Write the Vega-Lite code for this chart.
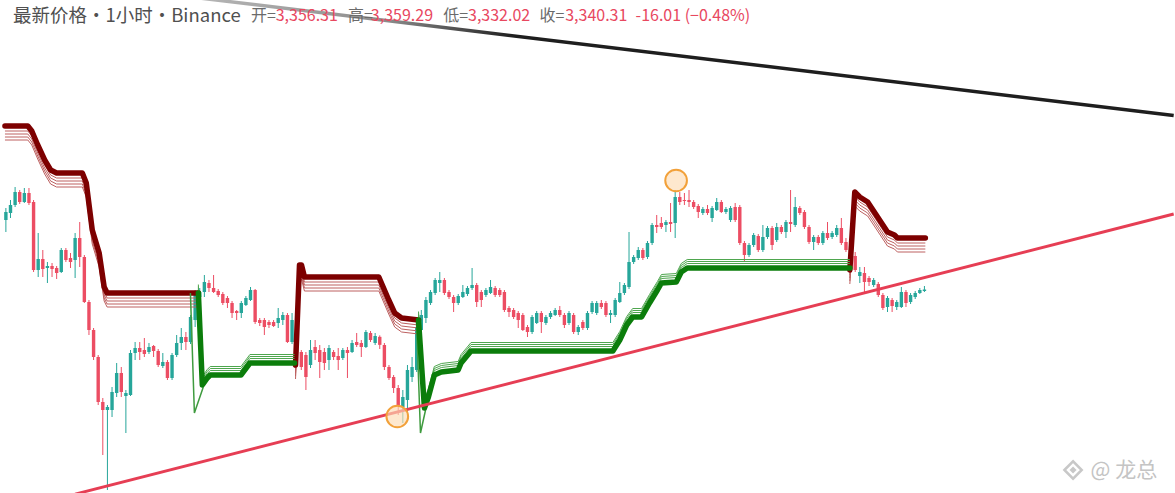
{
  "$schema": "https://vega.github.io/schema/vega-lite/v6.json",
  "width": 1175,
  "height": 493,
  "autosize": {"type": "fit", "contains": "padding"},
  "padding": 0,
  "background": "#ffffff",
  "config": {"view": {"stroke": null}},
  "datasets": {
    "candles": [
      {"t":0,"o":3590,"h":3614,"l":3566,"c":3606},
      {"t":1,"o":3604,"h":3630,"l":3594,"c":3620},
      {"t":2,"o":3620,"h":3656,"l":3616,"c":3646},
      {"t":3,"o":3646,"h":3650,"l":3622,"c":3626},
      {"t":4,"o":3626,"h":3654,"l":3624,"c":3644},
      {"t":5,"o":3644,"h":3654,"l":3620,"c":3624},
      {"t":6,"o":3626,"h":3630,"l":3486,"c":3490},
      {"t":7,"o":3490,"h":3564,"l":3476,"c":3512},
      {"t":8,"o":3512,"h":3530,"l":3476,"c":3492},
      {"t":9,"o":3494,"h":3506,"l":3464,"c":3498},
      {"t":10,"o":3498,"h":3504,"l":3476,"c":3492},
      {"t":11,"o":3494,"h":3498,"l":3472,"c":3484},
      {"t":12,"o":3486,"h":3534,"l":3484,"c":3530},
      {"t":13,"o":3530,"h":3534,"l":3506,"c":3510},
      {"t":14,"o":3514,"h":3524,"l":3494,"c":3506},
      {"t":15,"o":3510,"h":3564,"l":3474,"c":3554},
      {"t":16,"o":3554,"h":3586,"l":3496,"c":3516},
      {"t":17,"o":3516,"h":3520,"l":3424,"c":3426},
      {"t":18,"o":3426,"h":3430,"l":3360,"c":3370},
      {"t":19,"o":3370,"h":3374,"l":3310,"c":3316},
      {"t":20,"o":3316,"h":3320,"l":3220,"c":3226},
      {"t":21,"o":3226,"h":3234,"l":3120,"c":3210},
      {"t":22,"o":3210,"h":3220,"l":3050,"c":3216},
      {"t":23,"o":3210,"h":3256,"l":3196,"c":3246},
      {"t":24,"o":3244,"h":3304,"l":3236,"c":3284},
      {"t":25,"o":3284,"h":3296,"l":3236,"c":3246},
      {"t":26,"o":3238,"h":3250,"l":3164,"c":3244},
      {"t":27,"o":3240,"h":3330,"l":3238,"c":3324},
      {"t":28,"o":3324,"h":3346,"l":3310,"c":3334},
      {"t":29,"o":3334,"h":3346,"l":3310,"c":3326},
      {"t":30,"o":3330,"h":3354,"l":3316,"c":3322},
      {"t":31,"o":3326,"h":3344,"l":3322,"c":3336},
      {"t":32,"o":3338,"h":3340,"l":3316,"c":3328},
      {"t":33,"o":3328,"h":3332,"l":3296,"c":3300},
      {"t":34,"o":3298,"h":3324,"l":3294,"c":3306},
      {"t":35,"o":3306,"h":3310,"l":3270,"c":3274},
      {"t":36,"o":3274,"h":3324,"l":3270,"c":3320},
      {"t":37,"o":3320,"h":3360,"l":3316,"c":3344},
      {"t":38,"o":3344,"h":3374,"l":3330,"c":3356},
      {"t":39,"o":3356,"h":3366,"l":3330,"c":3346},
      {"t":40,"o":3346,"h":3400,"l":3342,"c":3396},
      {"t":41,"o":3390,"h":3450,"l":3376,"c":3444},
      {"t":42,"o":3436,"h":3454,"l":3432,"c":3446},
      {"t":43,"o":3446,"h":3480,"l":3436,"c":3466},
      {"t":44,"o":3464,"h":3470,"l":3446,"c":3454},
      {"t":45,"o":3454,"h":3480,"l":3444,"c":3446},
      {"t":46,"o":3448,"h":3452,"l":3436,"c":3440},
      {"t":47,"o":3442,"h":3446,"l":3420,"c":3424},
      {"t":48,"o":3434,"h":3438,"l":3414,"c":3424},
      {"t":49,"o":3424,"h":3428,"l":3394,"c":3404},
      {"t":50,"o":3408,"h":3410,"l":3390,"c":3404},
      {"t":51,"o":3404,"h":3428,"l":3394,"c":3424},
      {"t":52,"o":3420,"h":3438,"l":3418,"c":3434},
      {"t":53,"o":3430,"h":3456,"l":3428,"c":3450},
      {"t":54,"o":3450,"h":3452,"l":3382,"c":3386},
      {"t":55,"o":3390,"h":3394,"l":3378,"c":3384},
      {"t":56,"o":3390,"h":3394,"l":3360,"c":3376},
      {"t":57,"o":3386,"h":3390,"l":3374,"c":3380},
      {"t":58,"o":3386,"h":3390,"l":3376,"c":3378},
      {"t":59,"o":3384,"h":3414,"l":3374,"c":3394},
      {"t":60,"o":3390,"h":3406,"l":3380,"c":3400},
      {"t":61,"o":3400,"h":3404,"l":3344,"c":3346},
      {"t":62,"o":3346,"h":3404,"l":3342,"c":3390},
      {"t":63,"o":3386,"h":3390,"l":3318,"c":3326},
      {"t":64,"o":3326,"h":3330,"l":3290,"c":3296},
      {"t":65,"o":3320,"h":3326,"l":3250,"c":3276},
      {"t":66,"o":3300,"h":3350,"l":3294,"c":3330},
      {"t":67,"o":3336,"h":3350,"l":3310,"c":3324},
      {"t":68,"o":3330,"h":3340,"l":3274,"c":3306},
      {"t":69,"o":3326,"h":3334,"l":3290,"c":3304},
      {"t":70,"o":3310,"h":3340,"l":3290,"c":3334},
      {"t":71,"o":3326,"h":3330,"l":3310,"c":3316},
      {"t":72,"o":3318,"h":3334,"l":3290,"c":3310},
      {"t":73,"o":3314,"h":3334,"l":3310,"c":3330},
      {"t":74,"o":3330,"h":3336,"l":3274,"c":3324},
      {"t":75,"o":3326,"h":3350,"l":3324,"c":3344},
      {"t":76,"o":3346,"h":3364,"l":3336,"c":3340},
      {"t":77,"o":3344,"h":3350,"l":3316,"c":3336},
      {"t":78,"o":3336,"h":3370,"l":3334,"c":3366},
      {"t":79,"o":3364,"h":3368,"l":3346,"c":3350},
      {"t":80,"o":3344,"h":3364,"l":3340,"c":3358},
      {"t":81,"o":3356.31,"h":3359.29,"l":3332.02,"c":3340.31},
      {"t":82,"o":3340,"h":3344,"l":3290,"c":3296},
      {"t":83,"o":3296,"h":3300,"l":3270,"c":3274},
      {"t":84,"o":3276,"h":3280,"l":3244,"c":3254},
      {"t":85,"o":3254,"h":3260,"l":3200,"c":3220},
      {"t":86,"o":3216,"h":3250,"l":3184,"c":3236},
      {"t":87,"o":3230,"h":3300,"l":3194,"c":3290},
      {"t":88,"o":3276,"h":3316,"l":3266,"c":3296},
      {"t":89,"o":3290,"h":3380,"l":3286,"c":3376},
      {"t":90,"o":3370,"h":3410,"l":3360,"c":3400},
      {"t":91,"o":3394,"h":3436,"l":3384,"c":3430},
      {"t":92,"o":3424,"h":3450,"l":3420,"c":3446},
      {"t":93,"o":3444,"h":3474,"l":3440,"c":3470},
      {"t":94,"o":3464,"h":3486,"l":3446,"c":3470},
      {"t":95,"o":3470,"h":3474,"l":3440,"c":3444},
      {"t":96,"o":3446,"h":3450,"l":3432,"c":3436},
      {"t":97,"o":3436,"h":3440,"l":3406,"c":3424},
      {"t":98,"o":3424,"h":3442,"l":3420,"c":3438},
      {"t":99,"o":3436,"h":3460,"l":3434,"c":3446},
      {"t":100,"o":3442,"h":3458,"l":3438,"c":3454},
      {"t":101,"o":3454,"h":3494,"l":3450,"c":3460},
      {"t":102,"o":3460,"h":3464,"l":3416,"c":3426},
      {"t":103,"o":3446,"h":3450,"l":3416,"c":3430},
      {"t":104,"o":3440,"h":3454,"l":3436,"c":3450},
      {"t":105,"o":3444,"h":3470,"l":3442,"c":3456},
      {"t":106,"o":3454,"h":3458,"l":3436,"c":3440},
      {"t":107,"o":3450,"h":3454,"l":3436,"c":3440},
      {"t":108,"o":3446,"h":3450,"l":3406,"c":3410},
      {"t":109,"o":3414,"h":3418,"l":3396,"c":3406},
      {"t":110,"o":3410,"h":3414,"l":3392,"c":3396},
      {"t":111,"o":3404,"h":3408,"l":3374,"c":3390},
      {"t":112,"o":3400,"h":3404,"l":3368,"c":3370},
      {"t":113,"o":3376,"h":3380,"l":3356,"c":3366},
      {"t":114,"o":3366,"h":3400,"l":3362,"c":3396},
      {"t":115,"o":3384,"h":3408,"l":3382,"c":3404},
      {"t":116,"o":3404,"h":3408,"l":3364,"c":3386},
      {"t":117,"o":3384,"h":3400,"l":3380,"c":3396},
      {"t":118,"o":3396,"h":3408,"l":3392,"c":3404},
      {"t":119,"o":3400,"h":3414,"l":3398,"c":3410},
      {"t":120,"o":3410,"h":3418,"l":3396,"c":3400},
      {"t":121,"o":3400,"h":3404,"l":3374,"c":3380},
      {"t":122,"o":3384,"h":3408,"l":3380,"c":3404},
      {"t":123,"o":3400,"h":3404,"l":3362,"c":3366},
      {"t":124,"o":3366,"h":3380,"l":3360,"c":3376},
      {"t":125,"o":3386,"h":3390,"l":3370,"c":3374},
      {"t":126,"o":3374,"h":3408,"l":3370,"c":3404},
      {"t":127,"o":3406,"h":3428,"l":3402,"c":3424},
      {"t":128,"o":3404,"h":3428,"l":3400,"c":3424},
      {"t":129,"o":3424,"h":3430,"l":3412,"c":3416},
      {"t":130,"o":3424,"h":3428,"l":3396,"c":3400},
      {"t":131,"o":3400,"h":3410,"l":3384,"c":3404},
      {"t":132,"o":3400,"h":3434,"l":3396,"c":3430},
      {"t":133,"o":3426,"h":3466,"l":3424,"c":3444},
      {"t":134,"o":3444,"h":3464,"l":3440,"c":3460},
      {"t":135,"o":3456,"h":3566,"l":3452,"c":3506},
      {"t":136,"o":3506,"h":3520,"l":3502,"c":3516},
      {"t":137,"o":3514,"h":3536,"l":3510,"c":3530},
      {"t":138,"o":3530,"h":3534,"l":3510,"c":3514},
      {"t":139,"o":3516,"h":3548,"l":3512,"c":3544},
      {"t":140,"o":3544,"h":3584,"l":3540,"c":3580},
      {"t":141,"o":3580,"h":3600,"l":3564,"c":3576},
      {"t":142,"o":3584,"h":3596,"l":3572,"c":3576},
      {"t":143,"o":3580,"h":3590,"l":3566,"c":3586},
      {"t":144,"o":3586,"h":3624,"l":3566,"c":3582},
      {"t":145,"o":3584,"h":3650,"l":3554,"c":3636},
      {"t":146,"o":3636,"h":3646,"l":3620,"c":3626},
      {"t":147,"o":3630,"h":3644,"l":3620,"c":3628},
      {"t":148,"o":3630,"h":3650,"l":3616,"c":3626},
      {"t":149,"o":3626,"h":3630,"l":3612,"c":3616},
      {"t":150,"o":3618,"h":3622,"l":3594,"c":3606},
      {"t":151,"o":3604,"h":3616,"l":3600,"c":3612},
      {"t":152,"o":3612,"h":3620,"l":3600,"c":3604},
      {"t":153,"o":3594,"h":3618,"l":3586,"c":3614},
      {"t":154,"o":3610,"h":3634,"l":3608,"c":3626},
      {"t":155,"o":3626,"h":3630,"l":3604,"c":3606},
      {"t":156,"o":3606,"h":3616,"l":3602,"c":3612},
      {"t":157,"o":3590,"h":3618,"l":3586,"c":3614},
      {"t":158,"o":3616,"h":3624,"l":3586,"c":3590},
      {"t":159,"o":3616,"h":3620,"l":3540,"c":3544},
      {"t":160,"o":3544,"h":3548,"l":3506,"c":3520},
      {"t":161,"o":3520,"h":3544,"l":3516,"c":3540},
      {"t":162,"o":3540,"h":3564,"l":3536,"c":3560},
      {"t":163,"o":3558,"h":3562,"l":3526,"c":3530},
      {"t":164,"o":3530,"h":3580,"l":3526,"c":3556},
      {"t":165,"o":3556,"h":3578,"l":3552,"c":3574},
      {"t":166,"o":3574,"h":3578,"l":3530,"c":3540},
      {"t":167,"o":3550,"h":3584,"l":3546,"c":3576},
      {"t":168,"o":3576,"h":3580,"l":3562,"c":3566},
      {"t":169,"o":3566,"h":3590,"l":3554,"c":3586},
      {"t":170,"o":3586,"h":3650,"l":3566,"c":3582},
      {"t":171,"o":3580,"h":3636,"l":3576,"c":3616},
      {"t":172,"o":3614,"h":3618,"l":3600,"c":3604},
      {"t":173,"o":3606,"h":3610,"l":3572,"c":3576},
      {"t":174,"o":3576,"h":3580,"l":3542,"c":3546},
      {"t":175,"o":3546,"h":3560,"l":3530,"c":3556},
      {"t":176,"o":3556,"h":3560,"l":3540,"c":3544},
      {"t":177,"o":3544,"h":3568,"l":3540,"c":3564},
      {"t":178,"o":3564,"h":3586,"l":3550,"c":3554},
      {"t":179,"o":3556,"h":3568,"l":3552,"c":3564},
      {"t":180,"o":3560,"h":3580,"l":3556,"c":3574},
      {"t":181,"o":3574,"h":3594,"l":3540,"c":3544},
      {"t":182,"o":3546,"h":3554,"l":3526,"c":3530},
      {"t":183,"o":3530,"h":3540,"l":3514,"c":3518},
      {"t":184,"o":3518,"h":3526,"l":3486,"c":3490},
      {"t":185,"o":3478,"h":3496,"l":3464,"c":3486},
      {"t":186,"o":3484,"h":3496,"l":3446,"c":3466},
      {"t":187,"o":3474,"h":3478,"l":3458,"c":3466},
      {"t":188,"o":3460,"h":3474,"l":3456,"c":3470},
      {"t":189,"o":3462,"h":3466,"l":3436,"c":3440},
      {"t":190,"o":3440,"h":3444,"l":3410,"c":3414},
      {"t":191,"o":3416,"h":3438,"l":3406,"c":3434},
      {"t":192,"o":3430,"h":3434,"l":3406,"c":3418},
      {"t":193,"o":3416,"h":3430,"l":3410,"c":3426},
      {"t":194,"o":3416,"h":3456,"l":3414,"c":3446},
      {"t":195,"o":3446,"h":3450,"l":3416,"c":3424},
      {"t":196,"o":3426,"h":3444,"l":3422,"c":3440},
      {"t":197,"o":3436,"h":3448,"l":3432,"c":3444},
      {"t":198,"o":3444,"h":3454,"l":3442,"c":3450},
      {"t":199,"o":3448,"h":3458,"l":3446,"c":3451}
    ],
    "bear": [
      {"t":-0.2,"v":3778,"seg":"a"},
      {"t":4.75,"v":3778,"seg":"a"},
      {"t":5.61,"v":3768,"seg":"a"},
      {"t":6.9,"v":3740,"seg":"a"},
      {"t":8.4,"v":3710,"seg":"a"},
      {"t":9.69,"v":3690,"seg":"a"},
      {"t":10.98,"v":3684,"seg":"a"},
      {"t":16.56,"v":3684,"seg":"a"},
      {"t":17.42,"v":3664,"seg":"a"},
      {"t":18.71,"v":3570,"seg":"a"},
      {"t":20.21,"v":3524,"seg":"a"},
      {"t":21.29,"v":3456,"seg":"a"},
      {"t":21.93,"v":3444,"seg":"a"},
      {"t":41.7,"v":3444,"seg":"a"},
      {"t":62.75,"v":3300,"seg":"c"},
      {"t":63.61,"v":3500,"seg":"c"},
      {"t":64.04,"v":3500,"seg":"c"},
      {"t":64.68,"v":3476,"seg":"c"},
      {"t":80.8,"v":3476,"seg":"c"},
      {"t":82.94,"v":3430,"seg":"c"},
      {"t":84.23,"v":3404,"seg":"c"},
      {"t":85.73,"v":3394,"seg":"c"},
      {"t":89.39,"v":3390,"seg":"c"},
      {"t":182.84,"v":3490,"seg":"e"},
      {"t":183.91,"v":3646,"seg":"e"},
      {"t":184.98,"v":3636,"seg":"e"},
      {"t":186.7,"v":3626,"seg":"e"},
      {"t":188.85,"v":3596,"seg":"e"},
      {"t":190.99,"v":3566,"seg":"e"},
      {"t":192.5,"v":3560,"seg":"e"},
      {"t":193.15,"v":3554,"seg":"e"},
      {"t":199.2,"v":3554,"seg":"e"}
    ],
    "bull": [
      {"t":41.7,"v":3444,"seg":"b"},
      {"t":42.56,"v":3260,"seg":"b"},
      {"t":43.63,"v":3274,"seg":"b"},
      {"t":44.27,"v":3280,"seg":"b"},
      {"t":50.93,"v":3280,"seg":"b"},
      {"t":52.87,"v":3304,"seg":"b"},
      {"t":62.53,"v":3304,"seg":"b"},
      {"t":89.39,"v":3390,"seg":"d"},
      {"t":90.68,"v":3214,"seg":"d"},
      {"t":91.54,"v":3236,"seg":"d"},
      {"t":92.82,"v":3280,"seg":"d"},
      {"t":94.33,"v":3286,"seg":"d"},
      {"t":97.98,"v":3290,"seg":"d"},
      {"t":98.62,"v":3304,"seg":"d"},
      {"t":100.77,"v":3328,"seg":"d"},
      {"t":131.5,"v":3328,"seg":"d"},
      {"t":133.0,"v":3350,"seg":"d"},
      {"t":134.5,"v":3380,"seg":"d"},
      {"t":135.79,"v":3396,"seg":"d"},
      {"t":137.72,"v":3396,"seg":"d"},
      {"t":139.44,"v":3424,"seg":"d"},
      {"t":141.16,"v":3450,"seg":"d"},
      {"t":142.02,"v":3464,"seg":"d"},
      {"t":145.24,"v":3466,"seg":"d"},
      {"t":146.32,"v":3486,"seg":"d"},
      {"t":147.61,"v":3494,"seg":"d"},
      {"t":182.84,"v":3494,"seg":"d"}
    ],
    "flips": [
      {"t":39.98,"v":3444,"seg":"s1"},
      {"t":40.84,"v":3204,"seg":"s1"},
      {"t":42.77,"v":3256,"seg":"s1"},
      {"t":88.96,"v":3386,"seg":"s2"},
      {"t":89.82,"v":3164,"seg":"s2"},
      {"t":91.54,"v":3236,"seg":"s2"}
    ],
    "support": [{"t":15,"p":3041.8},{"t":253,"p":3601.9}],
    "resistance": [{"t":40,"p":4036.1},{"t":253,"p":3799.2}],
    "pivots": [{"t":84.8,"p":3197},{"t":145.2,"p":3669}],
    "legend": [
      {"t":1.53,"p":3998,"kind":"title","txt":"最新价格·1小时·Binance"},
      {"t":53.08,"p":3998,"kind":"label","txt":"开="},
      {"t":58.45,"p":3998,"kind":"value","txt":"3,356.31"},
      {"t":74.13,"p":3998,"kind":"label","txt":"高="},
      {"t":79.07,"p":3998,"kind":"value","txt":"3,359.29"},
      {"t":94.75,"p":3998,"kind":"label","txt":"低="},
      {"t":100.12,"p":3998,"kind":"value","txt":"3,332.02"},
      {"t":115.59,"p":3998,"kind":"label","txt":"收="},
      {"t":121.17,"p":3998,"kind":"value","txt":"3,340.31"},
      {"t":136.42,"p":3998,"kind":"value","txt":"-16.01 (−0.48%)"}
    ],
    "watermark": [{"t":235.0,"p":3088,"txt":"@ 龙总"}],
    "logo": [{"t":231.2,"p":3090}]
  },
  "layer": [
    {
      "mark": {"type": "rule", "color": "#26a69a", "strokeWidth": 1, "strokeDash": [1, 3]},
      "encoding": {
        "y": {"datum": 3451, "type": "quantitative", "scale": {"domain": [3044, 4030], "nice": false, "zero": false}, "axis": null}
      }
    },
    {
      "mark": {"type": "rule", "color": "#9a9a9a", "strokeWidth": 1, "strokeDash": [4, 4]},
      "encoding": {
        "x": {"datum": 81, "type": "quantitative", "scale": {"domain": [-0.19, 252.2], "nice": false, "zero": false}, "axis": null},
        "y": {"datum": 3978, "type": "quantitative", "scale": {"domain": [3044, 4030], "nice": false, "zero": false}, "axis": null},
        "y2": {"datum": 3044}
      }
    },
    {
      "data": {"name": "candles"},
      "mark": {"type": "rule", "strokeWidth": 1},
      "encoding": {
        "x": {"field": "t", "type": "quantitative", "scale": {"domain": [-0.19, 252.2], "nice": false, "zero": false}, "axis": null},
        "y": {"field": "h", "type": "quantitative", "scale": {"domain": [3044, 4030], "nice": false, "zero": false}, "axis": null},
        "y2": {"field": "l"},
        "color": {"condition": {"test": "datum.c >= datum.o", "value": "#26a69a"}, "value": "#ec4d63"}
      }
    },
    {
      "data": {"name": "candles"},
      "mark": {"type": "bar", "size": 3.4},
      "encoding": {
        "x": {"field": "t", "type": "quantitative", "scale": {"domain": [-0.19, 252.2], "nice": false, "zero": false}, "axis": null},
        "y": {"field": "o", "type": "quantitative", "scale": {"domain": [3044, 4030], "nice": false, "zero": false}, "axis": null},
        "y2": {"field": "c"},
        "color": {"condition": {"test": "datum.c >= datum.o", "value": "#26a69a"}, "value": "#ec4d63"}
      }
    },
    {
      "data": {"name": "bear"},
      "layer": [
        {"mark": {"type": "line", "strokeWidth": 1, "color": "#bd6060", "yOffset": 5}},
        {"mark": {"type": "line", "strokeWidth": 1, "color": "#bd6060", "yOffset": 8}},
        {"mark": {"type": "line", "strokeWidth": 1, "color": "#bd6060", "yOffset": 11}},
        {"mark": {"type": "line", "strokeWidth": 1, "color": "#bd6060", "yOffset": 14}},
        {"mark": {"type": "line", "strokeWidth": 5.5, "color": "#7d0000", "strokeJoin": "round", "strokeCap": "round"}}
      ],
      "encoding": {
        "x": {"field": "t", "type": "quantitative", "scale": {"domain": [-0.19, 252.2], "nice": false, "zero": false}, "axis": null},
        "y": {"field": "v", "type": "quantitative", "scale": {"domain": [3044, 4030], "nice": false, "zero": false}, "axis": null},
        "detail": {"field": "seg"}
      }
    },
    {
      "data": {"name": "flips"},
      "mark": {"type": "line", "strokeWidth": 1.5, "color": "#3f9b3f"},
      "encoding": {
        "x": {"field": "t", "type": "quantitative", "scale": {"domain": [-0.19, 252.2], "nice": false, "zero": false}, "axis": null},
        "y": {"field": "v", "type": "quantitative", "scale": {"domain": [3044, 4030], "nice": false, "zero": false}, "axis": null},
        "detail": {"field": "seg"}
      }
    },
    {
      "data": {"name": "bull"},
      "layer": [
        {"mark": {"type": "line", "strokeWidth": 1, "color": "#4ea64e", "yOffset": -4.5}},
        {"mark": {"type": "line", "strokeWidth": 1, "color": "#4ea64e", "yOffset": -6.5}},
        {"mark": {"type": "line", "strokeWidth": 1, "color": "#4ea64e", "yOffset": -8.5}},
        {"mark": {"type": "line", "strokeWidth": 5.5, "color": "#0b7d0b", "strokeJoin": "round", "strokeCap": "round"}}
      ],
      "encoding": {
        "x": {"field": "t", "type": "quantitative", "scale": {"domain": [-0.19, 252.2], "nice": false, "zero": false}, "axis": null},
        "y": {"field": "v", "type": "quantitative", "scale": {"domain": [3044, 4030], "nice": false, "zero": false}, "axis": null},
        "detail": {"field": "seg"}
      }
    },
    {
      "data": {"name": "resistance"},
      "mark": {
        "type": "line",
        "strokeWidth": 3.5,
        "clip": true,
        "stroke": {
          "gradient": "linear", "x1": 0, "y1": 0, "x2": 1, "y2": 0,
          "stops": [
            {"offset": 0, "color": "#b8b8b8"},
            {"offset": 0.2, "color": "#8c8c8c"},
            {"offset": 0.33, "color": "#1e1e1e"},
            {"offset": 1, "color": "#1e1e1e"}
          ]
        }
      },
      "encoding": {
        "x": {"field": "t", "type": "quantitative", "scale": {"domain": [-0.19, 252.2], "nice": false, "zero": false}, "axis": null},
        "y": {"field": "p", "type": "quantitative", "scale": {"domain": [3044, 4030], "nice": false, "zero": false}, "axis": null}
      }
    },
    {
      "data": {"name": "support"},
      "mark": {"type": "line", "strokeWidth": 3, "color": "#e63e54", "clip": true},
      "encoding": {
        "x": {"field": "t", "type": "quantitative", "scale": {"domain": [-0.19, 252.2], "nice": false, "zero": false}, "axis": null},
        "y": {"field": "p", "type": "quantitative", "scale": {"domain": [3044, 4030], "nice": false, "zero": false}, "axis": null}
      }
    },
    {
      "data": {"name": "pivots"},
      "mark": {"type": "point", "shape": "circle", "size": 470, "filled": true, "fill": "#fddcb4", "fillOpacity": 0.65, "stroke": "#f2a13a", "strokeWidth": 2, "opacity": 1},
      "encoding": {
        "x": {"field": "t", "type": "quantitative", "scale": {"domain": [-0.19, 252.2], "nice": false, "zero": false}, "axis": null},
        "y": {"field": "p", "type": "quantitative", "scale": {"domain": [3044, 4030], "nice": false, "zero": false}, "axis": null}
      }
    },
    {
      "data": {"name": "legend"},
      "transform": [{"filter": "datum.kind == 'title'"}],
      "mark": {"type": "text", "align": "left", "baseline": "middle", "font": "Noto Sans CJK SC", "fontSize": 18.5, "color": "#505050"},
      "encoding": {
        "x": {"field": "t", "type": "quantitative", "scale": {"domain": [-0.19, 252.2], "nice": false, "zero": false}, "axis": null},
        "y": {"field": "p", "type": "quantitative", "scale": {"domain": [3044, 4030], "nice": false, "zero": false}, "axis": null},
        "text": {"field": "txt"}
      }
    },
    {
      "data": {"name": "legend"},
      "transform": [{"filter": "datum.kind == 'label'"}],
      "mark": {"type": "text", "align": "left", "baseline": "middle", "font": "Noto Sans CJK SC", "fontSize": 16, "color": "#6b6b6b"},
      "encoding": {
        "x": {"field": "t", "type": "quantitative", "scale": {"domain": [-0.19, 252.2], "nice": false, "zero": false}, "axis": null},
        "y": {"field": "p", "type": "quantitative", "scale": {"domain": [3044, 4030], "nice": false, "zero": false}, "axis": null},
        "text": {"field": "txt"}
      }
    },
    {
      "data": {"name": "legend"},
      "transform": [{"filter": "datum.kind == 'value'"}],
      "mark": {"type": "text", "align": "left", "baseline": "middle", "font": "Noto Sans CJK SC", "fontSize": 16, "color": "#e8485f"},
      "encoding": {
        "x": {"field": "t", "type": "quantitative", "scale": {"domain": [-0.19, 252.2], "nice": false, "zero": false}, "axis": null},
        "y": {"field": "p", "type": "quantitative", "scale": {"domain": [3044, 4030], "nice": false, "zero": false}, "axis": null},
        "text": {"field": "txt"}
      }
    },
    {
      "data": {"name": "logo"},
      "layer": [
        {"mark": {"type": "point", "shape": "diamond", "size": 300, "filled": false, "stroke": "#c8c8c8", "strokeWidth": 2.5, "opacity": 1}},
        {"mark": {"type": "point", "shape": "diamond", "size": 50, "filled": true, "fill": "#c8c8c8", "opacity": 1}}
      ],
      "encoding": {
        "x": {"field": "t", "type": "quantitative", "scale": {"domain": [-0.19, 252.2], "nice": false, "zero": false}, "axis": null},
        "y": {"field": "p", "type": "quantitative", "scale": {"domain": [3044, 4030], "nice": false, "zero": false}, "axis": null}
      }
    },
    {
      "data": {"name": "watermark"},
      "mark": {"type": "text", "align": "left", "baseline": "middle", "font": "Noto Sans CJK SC", "fontSize": 21, "color": "#c4c4c4"},
      "encoding": {
        "x": {"field": "t", "type": "quantitative", "scale": {"domain": [-0.19, 252.2], "nice": false, "zero": false}, "axis": null},
        "y": {"field": "p", "type": "quantitative", "scale": {"domain": [3044, 4030], "nice": false, "zero": false}, "axis": null},
        "text": {"field": "txt"}
      }
    }
  ]
}
